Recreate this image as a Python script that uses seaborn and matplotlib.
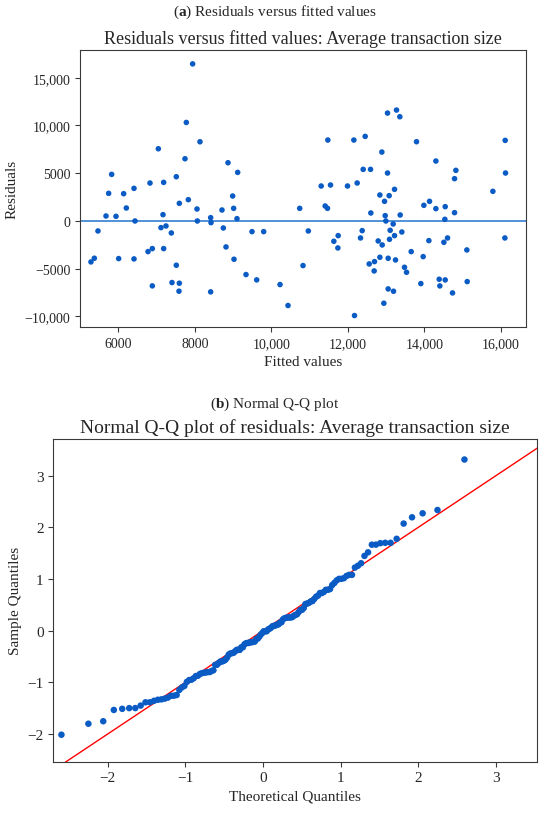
import statistics

import numpy as np
import pandas as pd
import seaborn as sns
import matplotlib.pyplot as plt
from matplotlib.ticker import FuncFormatter

# values
fitted_values = [
    5285, 5373, 5468, 5678, 5747, 5826, 5939, 6009, 6139, 6209,
    6410, 6436, 6410, 6776, 6828, 6889, 6889, 7046, 7115, 7168,
    7185, 7185, 7246, 7386, 7403, 7516, 7516, 7595, 7595, 7586,
    7743, 7778, 7830, 7943, 8135, 8057, 8066, 8414, 8423, 8414,
    8710, 8745, 8815, 8867, 8989, 9015, 9120, 9102, 9024, 9338,
    9495, 9617, 9800, 10227, 10436, 10741, 10828, 10967,
    11303, 11407, 11468, 11477, 11547, 11634, 11747, 11739, 11991, 12157,
    12174, 12244, 12331, 12375, 12401, 12453, 12558, 12593, 12601, 12697,
    12688, 12793, 12837, 12837, 12889, 12898, 12941, 12959, 12976, 12994,
    13037, 13037, 13054, 13054, 13080, 13089, 13106, 13185, 13194, 13220,
    13220, 13246, 13272, 13359, 13368, 13411, 13481, 13534, 13656, 13795,
    13908, 13969, 13987, 14118, 14135, 14301, 14301, 14388, 14405, 14510,
    14536, 14545, 14545, 14606, 14736, 14789, 14789, 14824, 15111, 15120,
    15791, 16113, 16122, 16105,
]
residuals = [
    -4286, -3900, -1045, 523, 2892, 4878, 488, -3937, 2857, 1359,
    3415, 0, -3972, -3206, 3972, -2892, -6794, 7561, -697, 662,
    4042, -2892, -523, -1254, -6446, 4634, -4634, 1847, -6516, -7352,
    6516, 10314, 2230, 16446, 8293, 1254, 0, 348, -174, -7422,
    1150, -732, -2718, 6098, 2613, 1324, 5087, 244, -4007, -5610,
    -1115, -6167, -1115, -6655, -8850, 1324, -4669, -1045,
    3661, 1569, 1325, 8473, 3766, -2127, -1534, -2824, 3661, 8473,
    -9902, 3975, -1778, -1011, 5404, 8856, -4498, 5404, 837, -4254,
    -5230, -2092, -3800, 2720, 7218, -2510, -8612, 2057, 558, 0,
    11297, 5021, -3905, -7113, 2650, -1918, -976, -314, -7357, -1534,
    3312, -4080, 11611, 10914, 628, -1151, -4847, -5370, -3208, 8298,
    -6555, -3731, 1639, -2057, 2057, 6276, 1290, -6102, -6799, -2232,
    174, 1499, -6172, -1778, -7531, 872, 4428, 5300, -3033, -6346,
    3103, 8438, 5021, -1778,
]

x_ticks_a = [6000, 8000, 10000, 12000, 14000, 16000]
y_ticks_a = [-10000, -5000, 0, 5000, 10000, 15000]
ticks_b = [-2, -1, 0, 1, 2, 3]

point_color = "#0a5bc4"
zero_line_color = "#4389d6"

sns.set_style("white")
plt.rcParams["font.family"] = ["Liberation Serif", "DejaVu Serif"]
plt.rcParams["mathtext.fontset"] = "custom"
plt.rcParams["mathtext.rm"] = "Liberation Serif"
plt.rcParams["mathtext.bf"] = "Liberation Serif:bold"
plt.rcParams["axes.edgecolor"] = "#3a3a3a"
plt.rcParams["xtick.major.size"] = 3.5
plt.rcParams["ytick.major.size"] = 3.5
plt.rcParams["xtick.bottom"] = True
plt.rcParams["ytick.left"] = True

df = pd.DataFrame({"fitted": fitted_values, "resid": residuals})

# Q-Q data: standardised residuals against normal quantiles
n = len(residuals)
z = np.sort((df["resid"] - df["resid"].mean()) / df["resid"].std(ddof=0))
nd = statistics.NormalDist()
theo = [nd.inv_cdf((i - 0.375) / (n + 0.25)) for i in range(1, n + 1)]
qq = pd.DataFrame({"theoretical": theo, "sample": z})


def thousands(v, pos):
    v = int(round(v))
    s = f"{abs(v):,}" if abs(v) >= 10000 else f"{abs(v)}"
    return ("\u2212" + s) if v < 0 else s


fig = plt.figure(figsize=(5.5, 8.2), dpi=100)

# ---- (a) residuals versus fitted values ----
ax1 = fig.add_axes([0.1455, 0.6, 0.811, 0.3378])
sns.scatterplot(data=df, x="fitted", y="resid", ax=ax1, color=point_color,
                s=16, edgecolor="none", zorder=3)
ax1.axhline(0, color=zero_line_color, lw=1.3, zorder=2)
ax1.set_xlim(4999, 16659)
ax1.set_ylim(-11100, 17900)
ax1.set_xticks(x_ticks_a)
ax1.set_yticks(y_ticks_a)
ax1.xaxis.set_major_formatter(FuncFormatter(thousands))
ax1.yaxis.set_major_formatter(FuncFormatter(thousands))
ax1.tick_params(labelsize=10, color="#3a3a3a")
ax1.set_xlabel("Fitted values", fontsize=11)
ax1.set_ylabel("Residuals", fontsize=11)
ax1.set_title("Residuals versus fitted values: Average transaction size",
              fontsize=13, pad=5)

fig.text(0.5, 0.985, r"($\mathbf{a}$) Residuals versus fitted values",
         ha="center", va="center", fontsize=11)

# ---- (b) normal Q-Q plot ----
ax2 = fig.add_axes([0.0969, 0.0699, 0.8795, 0.3935])
sns.scatterplot(data=qq, x="theoretical", y="sample", ax=ax2,
                color=point_color, s=22, edgecolor="none", zorder=3)
ax2.plot([-4, 5], [-4, 5], color="red", lw=1, zorder=2)
ax2.set_xlim(-2.70, 3.53)
ax2.set_ylim(-2.535, 3.71)
ax2.set_xticks(ticks_b)
ax2.set_yticks(ticks_b)
ax2.xaxis.set_major_formatter(FuncFormatter(thousands))
ax2.yaxis.set_major_formatter(FuncFormatter(thousands))
ax2.tick_params(labelsize=11, color="#3a3a3a")
ax2.set_xlabel("Theoretical Quantiles", fontsize=11)
ax2.set_ylabel("Sample Quantiles", fontsize=11)
ax2.set_title("Normal Q-Q plot of residuals: Average transaction size",
              fontsize=14, pad=5)

fig.text(0.5, 0.507, r"($\mathbf{b}$) Normal Q-Q plot",
         ha="center", va="center", fontsize=11)

fig.savefig("out.png", dpi=100)
